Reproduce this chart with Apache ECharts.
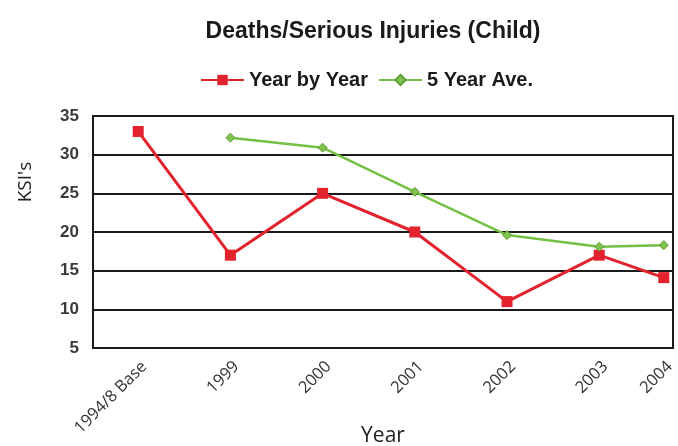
<!DOCTYPE html>
<html>
<head>
<meta charset="utf-8">
<script src="https://cdn.jsdelivr.net/npm/echarts@6/dist/echarts.min.js"></script>
<style>
  html, body { margin: 0; padding: 0; background: #fff; }
  #chart { width: 678px; height: 446px; }
</style>
</head>
<body>
<div id="chart"></div>
<script>
// Category labels along the year axis and where each one sits on it
const categories = ['1994/8 Base', '1999', '2000', '2001', '2002', '2003', '2004'];
const slots = [0, 1, 2, 3, 4, 5, 5.7];

// KSI counts per year and the rolling five-year average
const yearByYear = [33, 17, 25, 20, 11, 17, 14.1];
const fiveYearAve = [null, 32.2, 30.9, 25.2, 19.6, 18.1, 18.3];

const yTicks = [5, 10, 15, 20, 25, 30, 35];

const pairs = (vals) => vals.map((v, i) => [slots[i], v]).filter(p => p[1] !== null);

const chart = echarts.init(document.getElementById('chart'), null, { renderer: 'canvas' });

chart.setOption({
  animation: false,
  backgroundColor: '#ffffff',
  title: {
    text: 'Deaths/Serious Injuries (Child)',
    left: 368,
    textAlign: 'center',
    top: 15,
    textStyle: { fontFamily: 'Liberation Sans, Arial, sans-serif', fontSize: 23, fontWeight: 'bold', color: '#1a1a1a' }
  },
  legend: {
    top: 65,
    left: 195,
    itemWidth: 43,
    itemHeight: 13,
    itemGap: 10,
    textStyle: { fontFamily: 'Liberation Sans, Arial, sans-serif', fontSize: 20, fontWeight: 'bold', color: '#1a1a1a' },
    data: ['Year by Year', '5 Year Ave.']
  },
  grid: {
    left: 93, right: 5, top: 116, bottom: 98,
    outerBoundsMode: 'none',
    containLabel: false,
    show: true,
    borderColor: '#1a1a1a',
    borderWidth: 2,
    backgroundColor: '#ffffff'
  },
  xAxis: {
    type: 'value',
    min: -0.49,
    max: 5.8,
    name: 'Year',
    nameLocation: 'middle',
    nameGap: 78,
    nameMoveOverlap: false,
    nameTextStyle: { fontFamily: 'Open Sans, Liberation Sans, sans-serif', fontSize: 21, color: '#222' },
    axisLine: { show: false },
    axisTick: { show: false },
    splitLine: { show: false },
    axisLabel: {
      customValues: slots,
      rotate: 45,
      margin: 10,
      align: 'right',
      verticalAlign: 'top',
      fontFamily: 'Open Sans, Liberation Sans, Arial, sans-serif',
      fontSize: 16.5,
      color: '#333',
      formatter: (v) => {
        const i = slots.findIndex(s => Math.abs(s - v) < 1e-6);
        return i >= 0 ? categories[i] : '';
      }
    }
  },
  yAxis: {
    type: 'value',
    min: 5,
    max: 35,
    interval: 5,
    name: "KSI's",
    nameLocation: 'middle',
    nameGap: 58,
    nameMoveOverlap: false,
    nameTextStyle: { fontFamily: 'Open Sans, Liberation Sans, sans-serif', fontSize: 19, color: '#222', padding: [0, 0, 0, 100] },
    axisLine: { show: false },
    axisTick: { show: false },
    axisLabel: {
      margin: 14,
      fontFamily: 'Liberation Sans, Arial, sans-serif',
      fontSize: 17,
      fontWeight: 'bold',
      color: '#3a3a3a',
      formatter: (v) => yTicks.includes(v) ? String(v) : ''
    },
    splitLine: { lineStyle: { color: '#1a1a1a', width: 2 } }
  },
  series: [
    {
      name: 'Year by Year',
      type: 'line',
      data: pairs(yearByYear),
      symbol: 'rect',
      symbolSize: 11,
      itemStyle: { color: '#e2222d' },
      lineStyle: { color: '#e2222d', width: 3 },
      z: 3
    },
    {
      name: '5 Year Ave.',
      type: 'line',
      data: pairs(fiveYearAve),
      symbol: 'diamond',
      symbolSize: 9,
      itemStyle: { color: '#7fc24e', borderColor: '#5e9e34', borderWidth: 1 },
      lineStyle: { color: '#74bf45', width: 2.5 },
      z: 4
    }
  ]
});
</script>
</body>
</html>
